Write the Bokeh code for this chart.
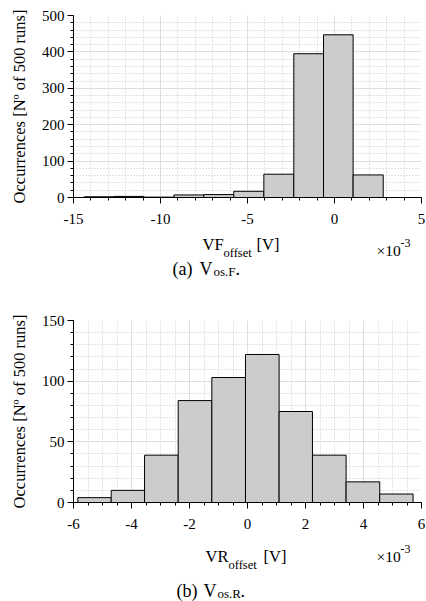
from bokeh.plotting import figure
from bokeh.models import Label, Range1d, FixedTicker
from bokeh.layouts import column
from bokeh.embed import file_html
from bokeh.resources import INLINE

# ---------------- data (x in units of 1e-3 V) ----------------
vf_edges = [-14.39, -12.67, -10.95, -9.23, -7.51, -5.79, -4.06, -2.34, -0.63, 1.07, 2.80]
vf_counts = [2, 3, 1, 7, 8, 17, 64, 395, 447, 62]
vf_xticks = [-15, -10, -5, 0, 5]
vf_yticks = [0, 100, 200, 300, 400, 500]

vr_edges = [-5.85, -4.70, -3.55, -2.39, -1.23, -0.07, 1.09, 2.24, 3.40, 4.56, 5.71]
vr_counts = [4, 10, 39, 84, 103, 122, 75, 39, 17, 7]
vr_xticks = [-6, -4, -2, 0, 2, 4, 6]
vr_yticks = [0, 50, 100, 150]

FONT = "Liberation Serif"
YLABEL = "Occurrences [N\u00ba of 500 runs]"
LEFT, FW, RIGHT = 73, 348, 5
BOTTOM = 34


def frange(a, b, step):
    out = []
    v = a
    while v <= b + 1e-9:
        out.append(round(v, 6))
        v += step
    return out


def chart(edges, counts, xticks, xminor_step, yticks, yminor_step, top_border):
    xr = (xticks[0], xticks[-1])
    yr = (yticks[0], yticks[-1])
    p = figure(frame_width=FW, frame_height=182,
               x_range=Range1d(*xr), y_range=Range1d(*yr),
               output_backend="svg", toolbar_location=None,
               min_border_left=LEFT, min_border_right=RIGHT,
               min_border_top=top_border, min_border_bottom=BOTTOM,
               outline_line_color=None)
    p.quad(left=edges[:-1], right=edges[1:], bottom=0, top=counts,
           fill_color="#cccccc", line_color="black", line_width=1)

    p.xaxis.ticker = FixedTicker(ticks=xticks,
                                 minor_ticks=frange(xr[0], xr[1], xminor_step))
    p.yaxis.ticker = FixedTicker(ticks=yticks,
                                 minor_ticks=frange(yr[0], yr[1], yminor_step))
    p.xaxis.major_label_overrides = {t: str(t) for t in xticks}
    for ax in (p.xaxis, p.yaxis):
        ax.axis_line_color = "black"
        ax.major_tick_line_color = "black"
        ax.minor_tick_line_color = "black"
        ax.major_tick_in = 0
        ax.major_tick_out = 6
        ax.minor_tick_in = 0
        ax.minor_tick_out = 3
        ax.major_label_text_font = FONT
        ax.major_label_text_font_size = "15px"
        ax.major_label_text_color = "black"
    p.xaxis.major_label_standoff = 10
    p.yaxis.major_label_standoff = 3
    p.yaxis.axis_label = YLABEL
    p.yaxis.axis_label_text_font = FONT
    p.yaxis.axis_label_text_font_size = "16.5px"
    p.yaxis.axis_label_text_font_style = "normal"
    p.yaxis.axis_label_text_color = "black"
    p.yaxis.axis_label_standoff = 10

    for g in (p.xgrid, p.ygrid):
        g.grid_line_color = "#dedede"
        g.grid_line_width = 1
        g.minor_grid_line_color = "#c8c8c8"
        g.minor_grid_line_dash = "1 2"
        g.minor_grid_line_width = 1
    return p


def textpanel(y0, y1, items):
    """A blank strip whose data coordinates equal page pixels."""
    t = figure(frame_width=FW, frame_height=y1 - y0,
               x_range=Range1d(LEFT, LEFT + FW), y_range=Range1d(y1, y0),
               x_axis_type=None, y_axis_type=None,
               output_backend="svg", toolbar_location=None,
               min_border_left=LEFT, min_border_right=RIGHT,
               min_border_top=0, min_border_bottom=0,
               outline_line_color=None)
    for text, px, py, size in items:
        t.add_layout(Label(x=px, y=py, text=text, text_font=FONT,
                           text_font_size=size, text_color="black",
                           text_align="left", text_baseline="alphabetic"))
    return t


# top chart: frame at page 15..197
p1 = chart(vf_edges, vf_counts, vf_xticks, 1, vf_yticks, 20, 15)
y_t1 = 15 + 182 + BOTTOM
t1 = textpanel(y_t1, 290, [
    ("VF", 202, 244, "16.5px"),
    ("offset", 223, 252, "12.5px"),
    ("[V]", 256, 244, "16.5px"),
    ("\u00d710", 376, 250, "15.5px"),
    ("-3", 400, 242, "12px"),
    ("(a)", 172, 268, "18px"),
    ("V", 199, 268, "18px"),
    ("os.F", 213, 271, "13px"),
    (".", 235, 268, "18px"),
])
# bottom chart: frame at page 320..502
p2 = chart(vr_edges, vr_counts, vr_xticks, 0.5, vr_yticks, 10, 30)
y_t2 = 290 + 30 + 182 + BOTTOM
t2 = textpanel(y_t2, 601, [
    ("VR", 205, 556, "16.5px"),
    ("offset", 228, 564, "12.5px"),
    ("[V]", 263, 556, "16.5px"),
    ("\u00d710", 376, 556, "15.5px"),
    ("-3", 400, 548, "12px"),
    ("(b)", 176, 590, "18px"),
    ("V", 203, 590, "18px"),
    ("os.R", 217, 593, "13px"),
    (".", 240, 590, "18px"),
])

layout = column(p1, t1, p2, t2, spacing=0)
open("out.html", "w").write(file_html(layout, INLINE))
